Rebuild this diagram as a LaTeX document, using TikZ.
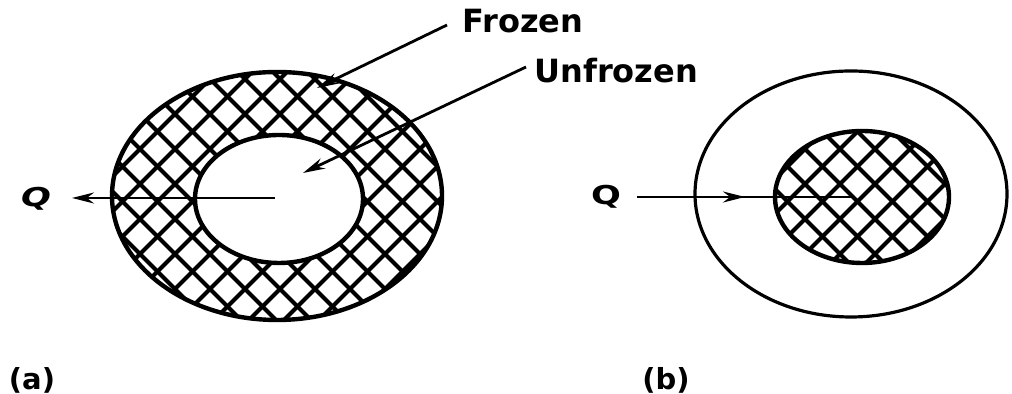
\documentclass[tikz,border=0pt]{standalone}
\usepackage{fontspec}
\setmainfont{DejaVu Sans}
\usepackage{graphicx}
\usetikzlibrary{arrows.meta}
\begin{document}
\begin{tikzpicture}[x=0.5pt,y=0.5pt,
  outline/.style={line width=2.2pt},
  hatchline/.style={line width=2pt},
  pointer/.style={line width=1.4pt,-{Stealth[length=11pt,width=5.5pt]}},
  lbl/.style={font=\bfseries\fontsize{16}{18}\selectfont,inner sep=0pt},
  qlbl/.style={font=\bfseries\fontsize{13}{15}\selectfont,inner sep=0pt},
  caplbl/.style={font=\bfseries\fontsize{14.5}{16}\selectfont,inner sep=0pt}]
\useasboundingbox (0,0) rectangle (1012,394);
% ---------- (a) ----------
\begin{scope}[even odd rule]
  \clip (277,198) ellipse [x radius=165,y radius=124]
        (279,195) ellipse [x radius=84,y radius=64];
  \foreach \c in {-420,-385,...,1460} {
    \draw[hatchline] (\c,0) -- ++(400,400);
    \draw[hatchline] (\c,0) -- ++(-400,400);
  }
\end{scope}
\draw[outline] (277,198) ellipse [x radius=165,y radius=124];
\draw[outline] (279,195) ellipse [x radius=84,y radius=64];
\coordinate (ca) at (275,196);
\coordinate (qatip) at (72,196);
\node[qlbl] (Qa) at (36,195) {\scalebox{1.35}[1]{\itshape Q}};
\draw[pointer,line width=1.3pt] (ca) -- (qatip);
\node[lbl,anchor=base west] (frozen) at (462,361) {Frozen};
\node[lbl,anchor=base west] (unfrozen) at (534,311) {Unfrozen};
\coordinate (frs) at (447,369);
\coordinate (frt) at (317,306);
\coordinate (ufs) at (526,327);
\coordinate (uft) at (303,221);
\draw[pointer] (frs) -- (frt);
\draw[pointer] (ufs) -- (uft);
\node[caplbl] (la) at (32,14) {(a)};
% ---------- (b) ----------
\begin{scope}
  \clip (862,197) ellipse [x radius=87,y radius=66];
  \foreach \c in {-420,-385,...,1460} {
    \draw[hatchline] (\c,0) -- ++(400,400);
    \draw[hatchline] (\c,0) -- ++(-400,400);
  }
\end{scope}
\draw[outline] (862,197) ellipse [x radius=87,y radius=66];
\draw[outline,line width=1.6pt] (851,200) ellipse [x radius=156,y radius=123];
\node[qlbl] (Qb) at (606,197) {\scalebox{1.35}[1]{Q}};
\coordinate (qbs) at (637,197);
\coordinate (qbm) at (745,197);
\coordinate (cb) at (852,197);
\draw[line width=1.3pt] (qbs) -- (cb);
\draw[pointer,line width=1.3pt] (qbs) -- (qbm);
\node[caplbl] (lb) at (666,14) {(b)};
\end{tikzpicture}
\end{document}
